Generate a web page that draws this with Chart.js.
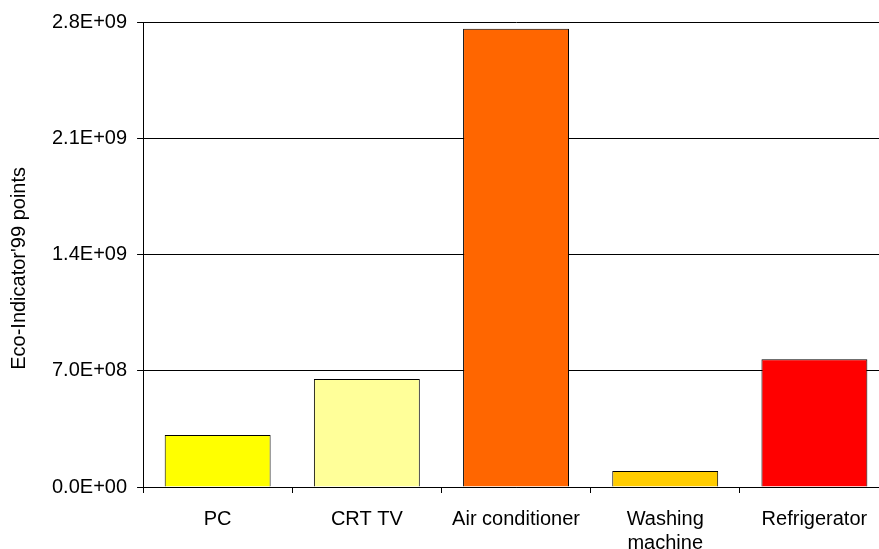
<!DOCTYPE html>
<html>
<head>
<meta charset="utf-8">
<script src="https://cdn.jsdelivr.net/npm/chart.js@4"></script>
<style>
  html, body { margin: 0; padding: 0; overflow: hidden; background: #fff; }
  #wrap { width: 890px; height: 549px; }
</style>
</head>
<body>
<div id="wrap"><canvas id="myChart"></canvas></div>
<script>
let labels = ['PC', 'CRT TV', 'Air conditioner', ['Washing', 'machine'], 'Refrigerator'];
let values = [3.13e8, 6.5e8, 2.76e9, 9.6e7, 7.7e8];
let colors = ['#FFFF00', '#FFFF99', '#FF6600', '#FFCC00', '#FF0000'];
let yTicks = [0, 7e8, 1.4e9, 2.1e9, 2.8e9];

function sci(v) {
    let s = Number(v).toExponential(1).toUpperCase();
    let parts = s.split('E');
    let exp = parseInt(parts[1], 10);
    let sign = exp < 0 ? '-' : '+';
    let e = String(Math.abs(exp)).padStart(2, '0');
    return parts[0] + 'E' + sign + e;
}

Chart.defaults.font.family = '"Liberation Sans", Arial, sans-serif';
Chart.defaults.font.size = 20;
Chart.defaults.color = '#000';

let ctx = document.getElementById('myChart').getContext('2d');
let chart = new Chart(ctx, {
    type: 'bar',
    data: {
        labels: labels,
        datasets: [{
            data: values,
            backgroundColor: colors,
            borderColor: '#000',
            borderWidth: 1,
            barPercentage: 0.71,
            categoryPercentage: 1
        }]
    },
    options: {
        responsive: true,
        maintainAspectRatio: false,
        animation: false,
        layout: {
            padding: { top: 13, right: 1, bottom: -20, left: 7 }
        },
        plugins: {
            legend: { display: false },
            tooltip: { enabled: false }
        },
        scales: {
            x: {
                offset: true,
                grid: {
                    offset: true,
                    drawOnChartArea: false,
                    drawTicks: true,
                    tickLength: 6,
                    color: '#000'
                },
                border: { color: '#000', width: 1 },
                ticks: { padding: 14, maxRotation: 0, autoSkip: false }
            },
            y: {
                min: 0,
                max: 2.8e9,
                afterBuildTicks: function(axis) {
                    axis.ticks = yTicks.map(v => ({ value: v }));
                },
                grid: {
                    color: '#000',
                    tickLength: 6
                },
                border: { color: '#000', width: 1 },
                ticks: {
                    padding: 10,
                    callback: function(v) { return sci(v); }
                },
                title: {
                    display: true,
                    text: "Eco-Indicator'99 points     ",
                    font: { size: 20 },
                    padding: { top: 0, bottom: 11 }
                }
            }
        }
    }
});
</script>
</body>
</html>
